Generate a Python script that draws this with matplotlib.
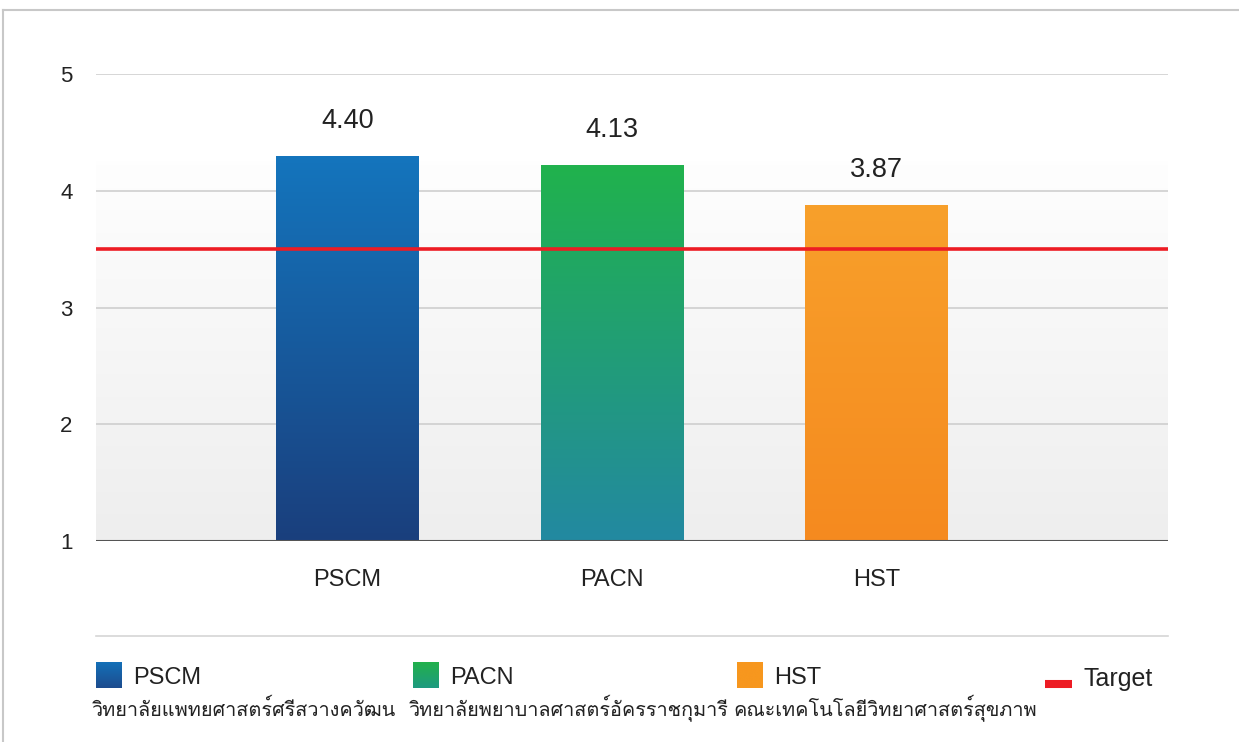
import matplotlib
matplotlib.use("Agg")
import matplotlib.pyplot as plt
import numpy as np
from matplotlib import font_manager
from matplotlib.ft2font import FT2Font
from matplotlib.colors import LinearSegmentedColormap
from matplotlib.lines import Line2D

# data
categories = ["PSCM", "PACN", "HST"]
bar_heights = [4.30, 4.22, 3.88]
value_labels = ["4.40", "4.13", "3.87"]
thai_names = ["วิทยาลัยแพทยศาสตร์ศรีสวางควัฒน",
              "วิทยาลัยพยาบาลศาสตร์อัครราชกุมารี",
              "คณะเทคโนโลยีวิทยาศาสตร์สุขภาพ"]
target = 3.5
yticks = [1, 2, 3, 4, 5]

top_colors = ["#1475bd", "#20b24d", "#f8a02b"]
bottom_colors = ["#1a3f7d", "#2389a1", "#f58a1f"]


# find some font that has Thai glyphs
def find_thai_font():
    for f in font_manager.fontManager.ttflist:
        try:
            if 0x0E27 in FT2Font(f.fname).get_charmap():
                return f.name
        except Exception:
            pass
    return None


thai = find_thai_font()
fam = ["Liberation Sans"] + ([thai] if thai else []) + ["DejaVu Sans"]
plt.rcParams["font.family"] = fam
txt = "#222222"

fig = plt.figure(figsize=(12.39, 7.42), dpi=100)
ax = fig.add_axes([96 / 1239, 1 - 541 / 742, 1072 / 1239, 467 / 742])

x = np.arange(len(categories))
ax.set_xlim(-0.95, 3.10)
ax.set_ylim(1, 5)

# background gradient
bg = np.linspace(0, 1, 100).reshape(-1, 1)
bg_cmap = LinearSegmentedColormap.from_list("bg", ["#eeeeee", "#fefefe"])
ax.imshow(bg, cmap=bg_cmap, extent=[-0.95, 3.10, 1, 4.25], origin="lower",
          aspect="auto", zorder=0)

for yv in yticks[1:]:
    ax.axhline(yv, color="#cfcfcf", lw=1.2, zorder=1)
ax.axhline(1, color="#555555", lw=1.5, zorder=4)

bars = ax.bar(x, np.array(bar_heights) - 1, bottom=1, width=0.54,
              color="none", edgecolor="none", zorder=2)
grad = np.linspace(0, 1, 200).reshape(-1, 1)
for b, h, c0, c1, lab in zip(bars, bar_heights, top_colors, bottom_colors, value_labels):
    cm = LinearSegmentedColormap.from_list("g", [c1, c0])
    x0 = b.get_x()
    im = ax.imshow(grad, cmap=cm, extent=[x0, x0 + b.get_width(), 1, h],
                   origin="lower", aspect="auto", zorder=2)
    im.set_clip_path(b)
    ax.annotate(lab, (b.get_x() + b.get_width() / 2, h), xytext=(0, 25),
                textcoords="offset points", ha="center", va="center",
                fontsize=19.5, color=txt)

ax.axhline(target, color="#ed1c24", lw=2.6, zorder=3)

ax.set_xticks(x)
ax.set_xticklabels(categories, fontsize=17, color=txt)
ax.set_yticks(yticks)
ax.set_yticklabels([str(v) for v in yticks], fontsize=16, color=txt)
ax.tick_params(axis="both", length=0)
ax.tick_params(axis="x", pad=20)
ax.tick_params(axis="y", pad=17)
for s in ax.spines.values():
    s.set_visible(False)

W, H = 1239, 742


def fx(px):
    return px / W


def fy(py):
    return 1 - py / H


# card border
fig.add_artist(Line2D([fx(3), 1], [fy(10), fy(10)], color="#c8c8c8", lw=1.5))
fig.add_artist(Line2D([fx(3), fx(3)], [0, fy(10)], color="#c8c8c8", lw=1.5))

# legend separator
fig.add_artist(Line2D([fx(96), fx(1168)], [fy(636), fy(636)], color="#d6d6d6", lw=1.2))

# legend
leg_x = [96, 413, 737]
leg_top = ["#1470b8", "#22b14c", "#f7971e"]
leg_bot = ["#1d4c8e", "#1e9a80", "#f7971e"]
for lx, name, th, c0, c1 in zip(leg_x, categories, thai_names, leg_top, leg_bot):
    sq = fig.add_axes([fx(lx), fy(688), fx(26), 26 / H])
    sq.imshow(grad, cmap=LinearSegmentedColormap.from_list("s", [c1, c0]),
              origin="lower", aspect="auto")
    sq.axis("off")
    fig.text(fx(lx + 37), fy(678), name, fontsize=17, color=txt, va="center")
    fig.text(fx(lx - 4), fy(709), th, fontsize=14.3, color=txt, va="center")

fig.add_artist(Line2D([fx(1045), fx(1072)], [fy(684), fy(684)], color="#ed1c24",
                      lw=5.8, solid_capstyle="butt"))
fig.text(fx(1083), fy(679), "Target", fontsize=18, color=txt, va="center")

fig.savefig("out.png", dpi=100)
